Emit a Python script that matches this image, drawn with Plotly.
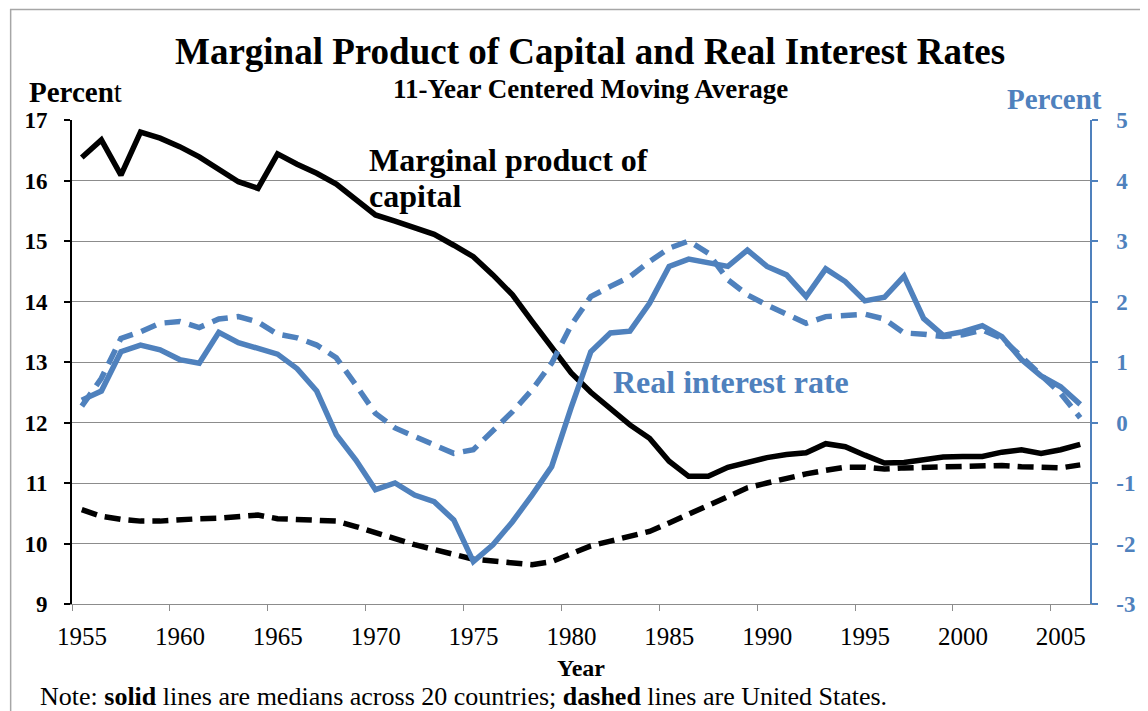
import plotly.graph_objects as go

# ---------------- data ----------------
years = [1955, 1956, 1957, 1958, 1959, 1960, 1961, 1962, 1963, 1964,
         1965, 1966, 1967, 1968, 1969, 1970, 1971, 1972, 1973, 1974,
         1975, 1976, 1977, 1978, 1979, 1980, 1981, 1982, 1983, 1984,
         1985, 1986, 1987, 1988, 1989, 1990, 1991, 1992, 1993, 1994,
         1995, 1996, 1997, 1998, 1999, 2000, 2001, 2002, 2003, 2004,
         2005, 2006]

# Marginal product of capital, median across 20 countries (left axis, %)
mpk_median = [16.38, 16.67, 16.09, 16.80, 16.70, 16.56, 16.39, 16.19, 15.98, 15.87,
              16.44, 16.27, 16.12, 15.94, 15.68, 15.43, 15.33, 15.22, 15.11, 14.93,
              14.74, 14.44, 14.11, 13.67, 13.23, 12.82, 12.50, 12.24, 11.96, 11.74,
              11.36, 11.11, 11.11, 11.26, 11.35, 11.42, 11.47, 11.50, 11.65, 11.60,
              11.46, 11.33, 11.34, 11.38, 11.43, 11.44, 11.44, 11.51, 11.55, 11.49,
              11.55, 11.64]

# Marginal product of capital, United States (left axis, %)
mpk_us = [10.56, 10.45, 10.40, 10.37, 10.37, 10.40, 10.41, 10.42, 10.45, 10.47,
          10.41, 10.40, 10.40, 10.37, 10.28, 10.17, 10.08, 9.98, 9.91, 9.82,
          9.74, 9.71, 9.67, 9.65, 9.70, 9.84, 9.96, 10.04, 10.11, 10.20,
          10.34, 10.48, 10.62, 10.78, 10.92, 11.00, 11.08, 11.15, 11.21, 11.26,
          11.26, 11.23, 11.25, 11.26, 11.27, 11.28, 11.29, 11.29, 11.27, 11.25,
          11.25, 11.30]

# Real interest rate, median across 20 countries (right axis, %)
rate_median = [0.37, 0.52, 1.17, 1.28, 1.20, 1.04, 0.98, 1.49, 1.32, 1.23,
               1.13, 0.89, 0.52, -0.20, -0.62, -1.11, -1.00, -1.20, -1.31, -1.61,
               -2.30, -2.02, -1.64, -1.20, -0.73, 0.25, 1.17, 1.48, 1.51, 1.97,
               2.58, 2.70, 2.63, 2.58, 2.85, 2.58, 2.44, 2.08, 2.54, 2.33,
               2.01, 2.07, 2.42, 1.72, 1.44, 1.50, 1.60, 1.42, 1.04, 0.77,
               0.59, 0.30]

# Real interest rate, United States (right axis, %)
rate_us = [0.27, 0.73, 1.39, 1.50, 1.64, 1.67, 1.57, 1.71, 1.75, 1.66,
           1.46, 1.40, 1.28, 1.07, 0.62, 0.15, -0.09, -0.23, -0.37, -0.51,
           -0.45, -0.15, 0.18, 0.54, 0.98, 1.61, 2.08, 2.25, 2.41, 2.66,
           2.88, 3.00, 2.80, 2.36, 2.11, 1.94, 1.78, 1.64, 1.75, 1.78,
           1.79, 1.71, 1.48, 1.46, 1.42, 1.45, 1.53, 1.39, 1.09, 0.76,
           0.48, 0.08]

tick_years = [1955, 1960, 1965, 1970, 1975, 1980, 1985, 1990, 1995, 2000, 2005]
left_ticks = [9, 10, 11, 12, 13, 14, 15, 16, 17]
right_ticks = [-3, -2, -1, 0, 1, 2, 3, 4, 5]
right_tick_labels = ["-3", "-2", "-1", "0", "1", "2", "3", "4", "5"]

# ---------------- style ----------------
FONT = "Liberation Serif"
BLUE = "#4F81BD"
GRID = "#8c8c8c"
OFF = 8                      # page body margin of the html page
W, H = 1148 - OFF, 711 - OFF
L, R, T, B = 72 - OFF, 39, 120 - OFF, 107
PW = W - L - R
PH = H - T - B


def fx(px):
    # px measured in window pixels
    return (px - OFF - L) / PW


def fy(py):
    return (H - B - (py - OFF)) / PH


fig = go.Figure()
fig.add_trace(go.Scatter(x=years, y=mpk_median, mode="lines", yaxis="y",
                         line=dict(color="black", width=5.5), showlegend=False))
fig.add_trace(go.Scatter(x=years, y=mpk_us, mode="lines", yaxis="y",
                         line=dict(color="black", width=5.5, dash="16px,8px"),
                         showlegend=False))
fig.add_trace(go.Scatter(x=years, y=rate_median, mode="lines", yaxis="y2",
                         line=dict(color=BLUE, width=5.5), showlegend=False))
fig.add_trace(go.Scatter(x=years, y=rate_us, mode="lines", yaxis="y2",
                         line=dict(color=BLUE, width=5.5, dash="16px,9px"),
                         showlegend=False))

fig.update_layout(
    width=W, height=H,
    margin=dict(l=L, r=R, t=T, b=B, pad=0),
    paper_bgcolor="white", plot_bgcolor="white",
    showlegend=False,
    font=dict(family=FONT, color="black"),
    xaxis=dict(
        range=[years[0] - 0.5, years[-1] + 0.5],
        tickmode="array",
        tickvals=[y - 0.5 for y in tick_years],
        ticktext=[str(y) for y in tick_years],
        ticklabelshift=10,
        ticks="outside", ticklen=6, tickwidth=1.3, tickcolor=GRID,
        showline=True, linecolor=GRID, linewidth=1.3,
        showgrid=False, zeroline=False,
        tickfont=dict(family=FONT, size=25, color="black"),
        ticklabelstandoff=4,
    ),
    yaxis=dict(
        range=[9, 17],
        tickmode="array", tickvals=left_ticks,
        ticktext=[str(v) for v in left_ticks],
        showgrid=True, gridcolor=GRID, gridwidth=1.3,
        showline=True, linecolor="black", linewidth=2,
        ticks="outside", ticklen=6, tickwidth=1.5, tickcolor="black",
        zeroline=False,
        tickfont=dict(family=FONT, size=23, color="black", weight="bold"),
        ticklabelstandoff=12,
    ),
    yaxis2=dict(
        range=[-3, 5], overlaying="y", side="right",
        tickmode="array", tickvals=right_ticks, ticktext=right_tick_labels,
        showgrid=False,
        showline=True, linecolor=BLUE, linewidth=1.5,
        ticks="outside", ticklen=6, tickwidth=1.5, tickcolor=BLUE,
        zeroline=False,
        tickfont=dict(family=FONT, size=23, color=BLUE, weight="bold"),
        ticklabelstandoff=14,
    ),
)

ann = [
    dict(text="<b>Marginal Product of Capital and Real Interest Rates</b>",
         x=fx(600), y=fy(51), size=37, color="black", xanchor="center"),
    dict(text="<b>11-Year Centered Moving Average</b>",
         x=fx(600), y=fy(89.5), size=27, color="black", xanchor="center"),
    dict(text="<b>Percen</b>t",
         x=fx(76), y=fy(92.5), size=29, color="black", xanchor="center"),
    dict(text="<b>Percent</b>",
         x=fx(1073), y=fy(99), size=29, color=BLUE, xanchor="center"),
    dict(text="<b>Marginal product of</b>",
         x=fx(374), y=fy(160), size=32, color="black", xanchor="left"),
    dict(text="<b>capital</b>",
         x=fx(374), y=fy(196), size=32, color="black", xanchor="left"),
    dict(text="<b>Real interest rate</b>",
         x=fx(622), y=fy(382), size=32, color=BLUE, xanchor="left"),
    dict(text="<b>Year</b>",
         x=fx(591), y=fy(668), size=24, color="black", xanchor="center"),
    dict(text="Note: <b>solid</b> lines are medians across 20 countries; "
              "<b>dashed</b> lines are United States.",
         x=fx(38), y=fy(696), size=26, color="black", xanchor="left"),
]
for a in ann:
    fig.add_annotation(
        text=a["text"], x=a["x"], y=a["y"], xref="paper", yref="paper",
        xanchor=a["xanchor"], yanchor="middle", showarrow=False,
        borderpad=0,
        font=dict(family=FONT, size=a["size"], color=a["color"]),
    )

# chart border (extends beyond the visible frame on the right and bottom)
fig.add_shape(type="rect", xref="paper", yref="paper",
              x0=fx(9.5), x1=fx(1400), y0=fy(900), y1=fy(9.5),
              line=dict(color="#a6a6a6", width=1.5), fillcolor="rgba(0,0,0,0)",
              layer="above")

fig.write_html("out.html")
